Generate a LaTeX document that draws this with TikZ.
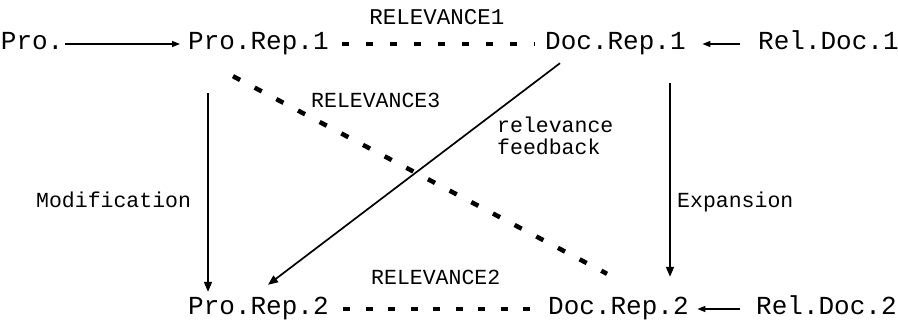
\documentclass[tikz,border=0pt]{standalone}
\usepackage{fontspec}
\newfontfamily\courfont{Liberation Mono}
\usetikzlibrary{arrows.meta}
\begin{document}
\begin{tikzpicture}[x=1pt,y=-1pt,
 mainlbl/.style={font=\courfont\fontsize{26}{30}\selectfont, inner sep=0pt, text height=17pt, text depth=5pt, anchor=base west},
 smalllbl/.style={font=\courfont\fontsize{21.5}{22}\selectfont, inner sep=0pt, anchor=base west},
 arr/.style={line width=1.7pt, -{Triangle[length=10pt,width=8pt]}},
 harr/.style={line width=1.4pt, -{Triangle[length=8pt,width=6pt]}},
 dotline/.style={line width=4.5pt, dash pattern=on 7pt off 17pt}]
\useasboundingbox (0,0) rectangle (898,323);
% main nodes
\node[mainlbl] (pro) at (0.7,50) {Pro.};
\node[mainlbl] (pr1) at (188,50) {Pro.Rep.1};
\node[mainlbl] (dr1) at (545,50) {Doc.Rep.1};
\node[mainlbl] (rd1) at (758,50) {Rel.Doc.1};
\node[mainlbl] (pr2) at (188,315) {Pro.Rep.2};
\node[mainlbl] (dr2) at (548,315) {Doc.Rep.2};
\node[mainlbl] (rd2) at (756,315) {Rel.Doc.2};
% labels
\node[smalllbl, font=\courfont\fontsize{22.5}{23}\selectfont, anchor=base] (rel1) at (437,25) {RELEVANCE1};
\node[smalllbl] (rel3) at (311,108) {RELEVANCE3};
\node[smalllbl] (rel2) at (371,285) {RELEVANCE2};
\node[smalllbl, align=left] (fb) at (497,155) {relevance\\feedback};
\node[smalllbl] (mod) at (36,208) {Modification};
\node[smalllbl] (exp) at (677,208) {Expansion};
% connectors
\draw[harr] ([xshift=1pt]pro.east) -- ([xshift=-8pt]pr1.west);
\draw[harr] ([xshift=-18pt]rd1.west) -- ([xshift=16.6pt]dr1.east);
\draw[harr] ([xshift=-16pt]rd2.west) -- ([xshift=8.6pt]dr2.east);
\draw[dotline] ([xshift=13.6pt]pr1.east) -- ([xshift=-10pt]dr1.west);
\draw[dotline, dash pattern=on 7pt off 15.5pt] ([xshift=14.6pt]pr2.east) -- ([xshift=-18pt]dr2.west);
\draw[dotline, dash pattern=on 8pt off 16.5pt] ([shift={(45,21)}]pr1.south west) -- ([shift={(59,-24)}]dr2.north west);
\draw[arr] ([shift={(20,38)}]pr1.south west) -- ([shift={(20,-6)}]pr2.north west);
\draw[arr] ([shift={(125,28)}]dr1.south west) -- ([shift={(122,-21)}]dr2.north west);
\draw[arr] ([shift={(15,8)}]dr1.south west) -- ([shift={(80,-13)}]pr2.north west);
\end{tikzpicture}
\end{document}
